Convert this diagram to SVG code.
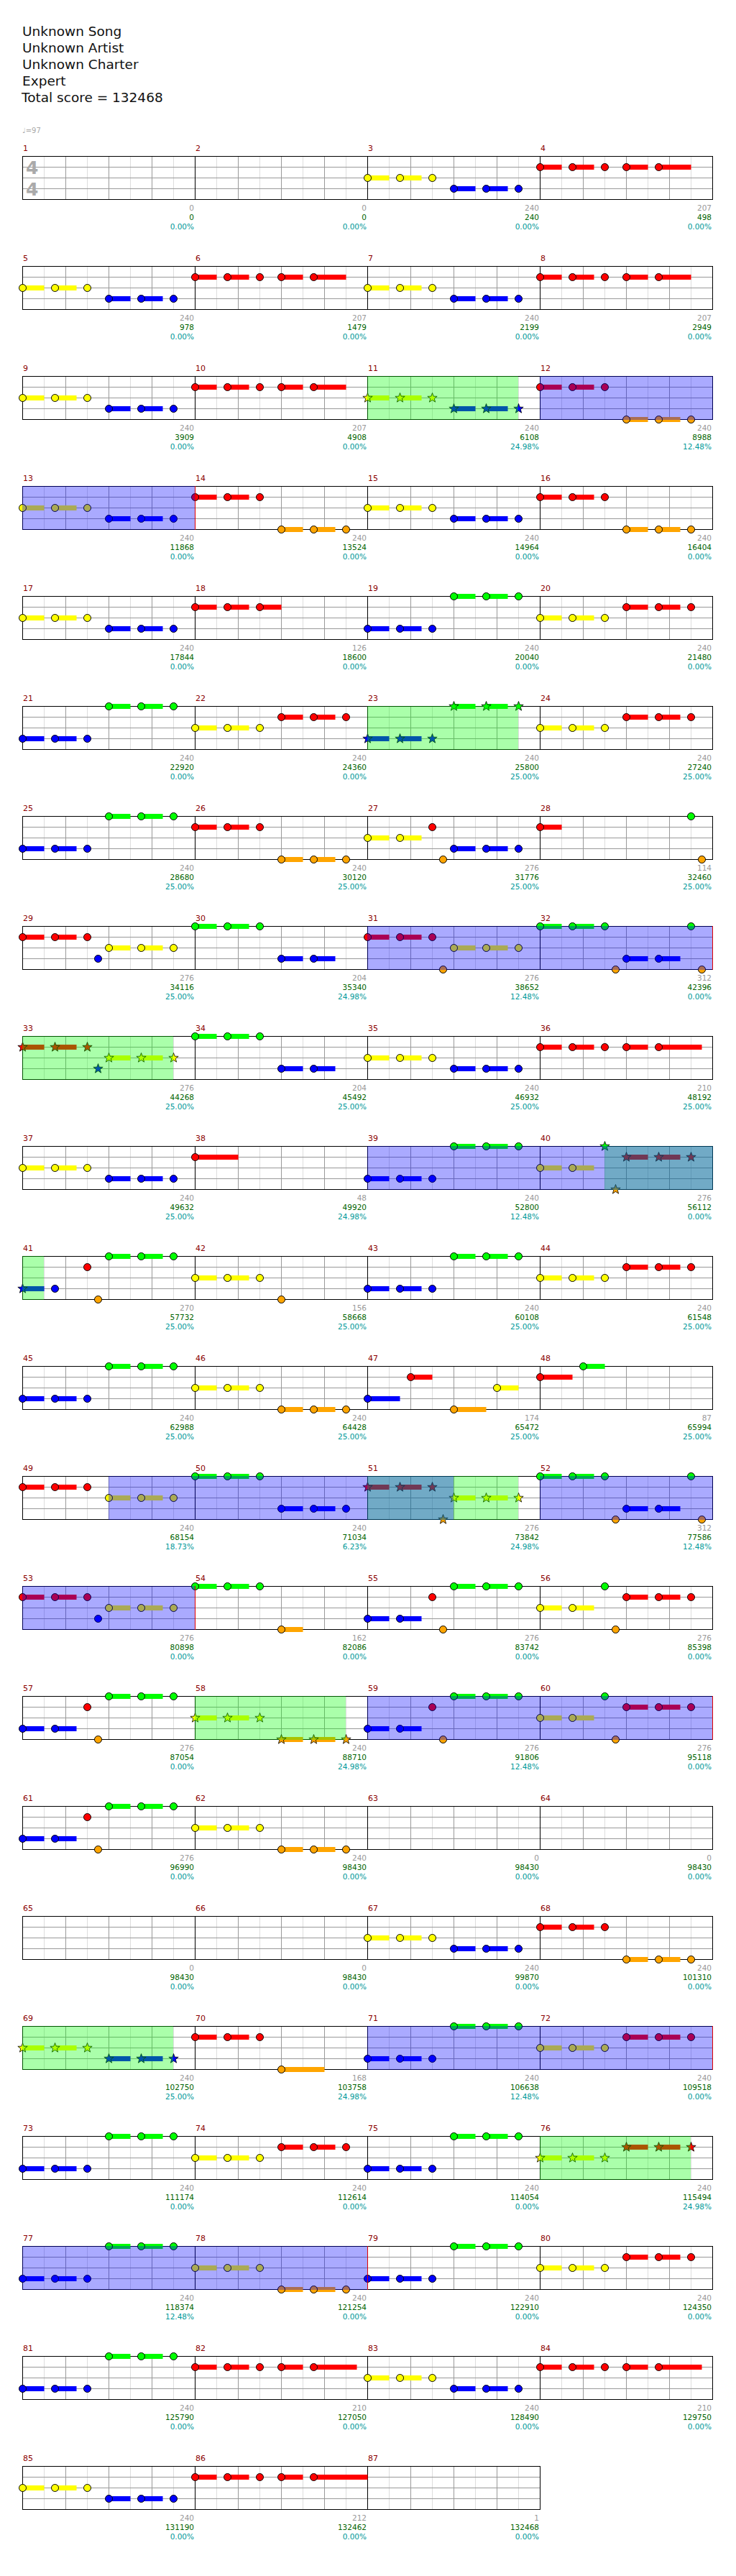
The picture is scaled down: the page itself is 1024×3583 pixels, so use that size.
<svg xmlns="http://www.w3.org/2000/svg" xmlns:xlink="http://www.w3.org/1999/xlink" width="1024" height="3583" viewBox="0 0 1024 3583">
<style>
text{font-family:"DejaVu Sans",sans-serif}
.ti{font-size:18.5px;fill:#111}
.n{font-size:11px;fill:#8b0000}
.a{font-size:10.5px;fill:#999;text-anchor:end}
.s{font-size:10.5px;fill:#006400;text-anchor:end}
.p{font-size:10.5px;fill:#009999;text-anchor:end}
.ts{font-size:25px;font-weight:bold;fill:#aaa}
.G{fill:#00ff00}.R{fill:#ff0000}.Y{fill:#ffff00}.B{fill:#0000ff}.O{fill:#ffa500}
.gz{fill:#00ff00;fill-opacity:.333}
.bz{fill:#0000ff;fill-opacity:.333}
.rl{stroke:#e00000;stroke-width:1;fill:none}
</style>
<defs>
<circle id="n" r="5" stroke="#000" stroke-width="1"/>
<path id="st" d="M0,-7L1.7,-2.35L6.66,-2.16L2.76,0.9L4.11,5.66L0,2.9L-4.11,5.66L-2.76,0.9L-6.66,-2.16L-1.7,-2.35Z" stroke="#000" stroke-width="0.8"/>
<rect id="t" y="-3.5" width="30" height="7"/>
<g id="n1"><use href="#t"/><use href="#n"/></g>
<g id="s1"><use href="#t"/><use href="#st"/></g>
<g id="n45"><rect y="-3.5" width="45" height="7"/><use href="#n"/></g>
<g id="n60"><rect y="-3.5" width="60" height="7"/><use href="#n"/></g>
<g id="c2"><use href="#t"/><use href="#t" x="45"/><use href="#n"/><use href="#n" x="45"/></g>
<g id="c3"><use href="#c2"/><use href="#n" x="90"/></g>
<g id="c3t"><use href="#c2"/><use href="#n1" x="90"/></g>
<g id="s3"><use href="#t"/><use href="#t" x="45"/><use href="#st"/><use href="#st" x="45"/><use href="#st" x="90"/></g>
<g id="r5a"><use href="#c3"/><use href="#n1" x="120"/><use href="#n45" x="165"/></g>
<g id="r5b"><use href="#c3"/><use href="#n1" x="120"/><use href="#n60" x="165"/></g>
<g id="r5c"><use href="#c3"/><use href="#n1" x="120"/><rect x="165" y="-3.5" width="75" height="7"/><use href="#n" x="165"/></g>
<g id="sg4" fill="none">
<path stroke="#dddddd" d="M30.5,0V60M90.5,0V60M150.5,0V60M210.5,0V60M270.5,0V60M330.5,0V60M390.5,0V60M450.5,0V60M510.5,0V60M570.5,0V60M630.5,0V60M690.5,0V60M750.5,0V60M810.5,0V60M870.5,0V60M930.5,0V60"/>
<path stroke="#999999" d="M60.5,0V60M120.5,0V60M180.5,0V60M300.5,0V60M360.5,0V60M420.5,0V60M540.5,0V60M600.5,0V60M660.5,0V60M780.5,0V60M840.5,0V60M900.5,0V60M0,15.5H960M0,30.5H960M0,45.5H960"/>
<path stroke="#000" d="M240.5,0V60M480.5,0V60M720.5,0V60"/>
<rect x="0.5" y="0.5" width="960" height="60" stroke="#000"/>
</g>
<g id="sg3" fill="none">
<path stroke="#dddddd" d="M30.5,0V60M90.5,0V60M150.5,0V60M210.5,0V60M270.5,0V60M330.5,0V60M390.5,0V60M450.5,0V60M510.5,0V60M570.5,0V60M630.5,0V60M690.5,0V60"/>
<path stroke="#999999" d="M60.5,0V60M120.5,0V60M180.5,0V60M300.5,0V60M360.5,0V60M420.5,0V60M540.5,0V60M600.5,0V60M660.5,0V60M0,15.5H720M0,30.5H720M0,45.5H720"/>
<path stroke="#000" d="M240.5,0V60M480.5,0V60"/>
<rect x="0.5" y="0.5" width="720" height="60" stroke="#000"/>
</g>
</defs>
<rect width="1024" height="3583" fill="#fff"/>
<g id="header">
<text class="ti" x="31" y="50">Unknown Song</text>
<text class="ti" x="31" y="73">Unknown Artist</text>
<text class="ti" x="31" y="96">Unknown Charter</text>
<text class="ti" x="31" y="119">Expert</text>
<text class="ti" x="30" y="142">Total score = 132468</text>
<text x="31" y="185" style="font-size:10px;fill:#aaa">♩=97</text>
</g>
<g id="staves">
<use href="#sg4" x="31" y="217"/><use href="#sg4" x="31" y="370"/><use href="#sg4" x="31" y="523"/><use href="#sg4" x="31" y="676"/>
<use href="#sg4" x="31" y="829"/><use href="#sg4" x="31" y="982"/><use href="#sg4" x="31" y="1135"/><use href="#sg4" x="31" y="1288"/>
<use href="#sg4" x="31" y="1441"/><use href="#sg4" x="31" y="1594"/><use href="#sg4" x="31" y="1747"/><use href="#sg4" x="31" y="1900"/>
<use href="#sg4" x="31" y="2053"/><use href="#sg4" x="31" y="2206"/><use href="#sg4" x="31" y="2359"/><use href="#sg4" x="31" y="2512"/>
<use href="#sg4" x="31" y="2665"/><use href="#sg4" x="31" y="2818"/><use href="#sg4" x="31" y="2971"/><use href="#sg4" x="31" y="3124"/>
<use href="#sg4" x="31" y="3277"/><use href="#sg3" x="31" y="3430"/>
<text class="ts" x="36" y="241.5">4</text>
<text class="ts" x="36" y="271.5">4</text>
</g>
<g id="notes">
<g id="m3"><use href="#c3" class="Y" x="511.5" y="247.5"/><use href="#c3" class="B" x="631.5" y="262.5"/></g>
<g id="m4"><use href="#r5a" class="R" x="751.5" y="232.5"/></g>
<g id="m5"><use href="#c3" class="Y" x="31.5" y="400.5"/><use href="#c3" class="B" x="151.5" y="415.5"/></g>
<g id="m6"><use href="#r5a" class="R" x="271.5" y="385.5"/></g>
<g id="m7"><use href="#c3" class="Y" x="511.5" y="400.5"/><use href="#c3" class="B" x="631.5" y="415.5"/></g>
<g id="m8"><use href="#r5a" class="R" x="751.5" y="385.5"/></g>
<g id="m9"><use href="#c3" class="Y" x="31.5" y="553.5"/><use href="#c3" class="B" x="151.5" y="568.5"/></g>
<g id="m10"><use href="#r5a" class="R" x="271.5" y="538.5"/></g>
<g id="m11"><use href="#s3" class="Y" x="511.5" y="553.5"/><use href="#s3" class="B" x="631.5" y="568.5"/></g>
<g id="m12"><use href="#c3" class="R" x="751.5" y="538.5"/><use href="#c3" class="O" x="871.5" y="583.5"/></g>
<g id="m13"><use href="#c3" class="Y" x="31.5" y="706.5"/><use href="#c3" class="B" x="151.5" y="721.5"/></g>
<g id="m14"><use href="#c3" class="R" x="271.5" y="691.5"/><use href="#c3" class="O" x="391.5" y="736.5"/></g>
<g id="m15"><use href="#c3" class="Y" x="511.5" y="706.5"/><use href="#c3" class="B" x="631.5" y="721.5"/></g>
<g id="m16"><use href="#c3" class="R" x="751.5" y="691.5"/><use href="#c3" class="O" x="871.5" y="736.5"/></g>
<g id="m17"><use href="#c3" class="Y" x="31.5" y="859.5"/><use href="#c3" class="B" x="151.5" y="874.5"/></g>
<g id="m18"><use href="#c3t" class="R" x="271.5" y="844.5"/></g>
<g id="m19"><use href="#c3" class="B" x="511.5" y="874.5"/><use href="#c3" class="G" x="631.5" y="829.5"/></g>
<g id="m20"><use href="#c3" class="Y" x="751.5" y="859.5"/><use href="#c3" class="R" x="871.5" y="844.5"/></g>
<g id="m21"><use href="#c3" class="B" x="31.5" y="1027.5"/><use href="#c3" class="G" x="151.5" y="982.5"/></g>
<g id="m22"><use href="#c3" class="Y" x="271.5" y="1012.5"/><use href="#c3" class="R" x="391.5" y="997.5"/></g>
<g id="m23"><use href="#s3" class="B" x="511.5" y="1027.5"/><use href="#s3" class="G" x="631.5" y="982.5"/></g>
<g id="m24"><use href="#c3" class="Y" x="751.5" y="1012.5"/><use href="#c3" class="R" x="871.5" y="997.5"/></g>
<g id="m25"><use href="#c3" class="B" x="31.5" y="1180.5"/><use href="#c3" class="G" x="151.5" y="1135.5"/></g>
<g id="m26"><use href="#c3" class="R" x="271.5" y="1150.5"/><use href="#c3" class="O" x="391.5" y="1195.5"/></g>
<g id="m27"><use href="#c2" class="Y" x="511.5" y="1165.5"/><use href="#n" class="R" x="601.5" y="1150.5"/><use href="#n" class="O" x="616.5" y="1195.5"/><use href="#c3" class="B" x="631.5" y="1180.5"/></g>
<g id="m28"><use href="#n1" class="R" x="751.5" y="1150.5"/><use href="#n" class="G" x="961.5" y="1135.5"/><use href="#n" class="O" x="976.5" y="1195.5"/></g>
<g id="m29"><use href="#c3" class="R" x="31.5" y="1303.5"/><use href="#n" class="B" x="136.5" y="1333.5"/><use href="#c3" class="Y" x="151.5" y="1318.5"/></g>
<g id="m30"><use href="#c3" class="G" x="271.5" y="1288.5"/><use href="#c2" class="B" x="391.5" y="1333.5"/></g>
<g id="m31"><use href="#c3" class="R" x="511.5" y="1303.5"/><use href="#n" class="O" x="616.5" y="1348.5"/><use href="#c3" class="Y" x="631.5" y="1318.5"/></g>
<g id="m32"><use href="#c3" class="G" x="751.5" y="1288.5"/><use href="#n" class="O" x="856.5" y="1348.5"/><use href="#c2" class="B" x="871.5" y="1333.5"/><use href="#n" class="G" x="961.5" y="1288.5"/><use href="#n" class="O" x="976.5" y="1348.5"/></g>
<g id="m33"><use href="#s3" class="R" x="31.5" y="1456.5"/><use href="#st" class="B" x="136.5" y="1486.5"/><use href="#s3" class="Y" x="151.5" y="1471.5"/></g>
<g id="m34"><use href="#c3" class="G" x="271.5" y="1441.5"/><use href="#c2" class="B" x="391.5" y="1486.5"/></g>
<g id="m35"><use href="#c3" class="Y" x="511.5" y="1471.5"/><use href="#c3" class="B" x="631.5" y="1486.5"/></g>
<g id="m36"><use href="#r5b" class="R" x="751.5" y="1456.5"/></g>
<g id="m37"><use href="#c3" class="Y" x="31.5" y="1624.5"/><use href="#c3" class="B" x="151.5" y="1639.5"/></g>
<g id="m38"><use href="#n60" class="R" x="271.5" y="1609.5"/></g>
<g id="m39"><use href="#c3" class="B" x="511.5" y="1639.5"/><use href="#c3" class="G" x="631.5" y="1594.5"/></g>
<g id="m40"><use href="#c2" class="Y" x="751.5" y="1624.5"/><use href="#st" class="G" x="841.5" y="1594.5"/><use href="#st" class="O" x="856.5" y="1654.5"/><use href="#s3" class="R" x="871.5" y="1609.5"/></g>
<g id="m41"><use href="#s1" class="B" x="31.5" y="1792.5"/><use href="#n" class="B" x="76.5" y="1792.5"/><use href="#n" class="R" x="121.5" y="1762.5"/><use href="#n" class="O" x="136.5" y="1807.5"/><use href="#c3" class="G" x="151.5" y="1747.5"/></g>
<g id="m42"><use href="#c3" class="Y" x="271.5" y="1777.5"/><use href="#n" class="O" x="391.5" y="1807.5"/></g>
<g id="m43"><use href="#c3" class="B" x="511.5" y="1792.5"/><use href="#c3" class="G" x="631.5" y="1747.5"/></g>
<g id="m44"><use href="#c3" class="Y" x="751.5" y="1777.5"/><use href="#c3" class="R" x="871.5" y="1762.5"/></g>
<g id="m45"><use href="#c3" class="B" x="31.5" y="1945.5"/><use href="#c3" class="G" x="151.5" y="1900.5"/></g>
<g id="m46"><use href="#c3" class="Y" x="271.5" y="1930.5"/><use href="#c3" class="O" x="391.5" y="1960.5"/></g>
<g id="m47"><use href="#n45" class="B" x="511.5" y="1945.5"/><use href="#n1" class="R" x="571.5" y="1915.5"/><use href="#n45" class="O" x="631.5" y="1960.5"/><use href="#n1" class="Y" x="691.5" y="1930.5"/></g>
<g id="m48"><use href="#n45" class="R" x="751.5" y="1915.5"/><use href="#n1" class="G" x="811.5" y="1900.5"/></g>
<g id="m49"><use href="#c3" class="R" x="31.5" y="2068.5"/><use href="#c3" class="Y" x="151.5" y="2083.5"/></g>
<g id="m50"><use href="#c3" class="G" x="271.5" y="2053.5"/><use href="#c3" class="B" x="391.5" y="2098.5"/></g>
<g id="m51"><use href="#s3" class="R" x="511.5" y="2068.5"/><use href="#st" class="O" x="616.5" y="2113.5"/><use href="#s3" class="Y" x="631.5" y="2083.5"/></g>
<g id="m52"><use href="#c3" class="G" x="751.5" y="2053.5"/><use href="#n" class="O" x="856.5" y="2113.5"/><use href="#c2" class="B" x="871.5" y="2098.5"/><use href="#n" class="G" x="961.5" y="2053.5"/><use href="#n" class="O" x="976.5" y="2113.5"/></g>
<g id="m53"><use href="#c3" class="R" x="31.5" y="2221.5"/><use href="#n" class="B" x="136.5" y="2251.5"/><use href="#c3" class="Y" x="151.5" y="2236.5"/></g>
<g id="m54"><use href="#c3" class="G" x="271.5" y="2206.5"/><use href="#n1" class="O" x="391.5" y="2266.5"/></g>
<g id="m55"><use href="#c2" class="B" x="511.5" y="2251.5"/><use href="#n" class="R" x="601.5" y="2221.5"/><use href="#n" class="O" x="616.5" y="2266.5"/><use href="#c3" class="G" x="631.5" y="2206.5"/></g>
<g id="m56"><use href="#c2" class="Y" x="751.5" y="2236.5"/><use href="#n" class="G" x="841.5" y="2206.5"/><use href="#n" class="O" x="856.5" y="2266.5"/><use href="#c3" class="R" x="871.5" y="2221.5"/></g>
<g id="m57"><use href="#c2" class="B" x="31.5" y="2404.5"/><use href="#n" class="R" x="121.5" y="2374.5"/><use href="#n" class="O" x="136.5" y="2419.5"/><use href="#c3" class="G" x="151.5" y="2359.5"/></g>
<g id="m58"><use href="#s3" class="Y" x="271.5" y="2389.5"/><use href="#s3" class="O" x="391.5" y="2419.5"/></g>
<g id="m59"><use href="#c2" class="B" x="511.5" y="2404.5"/><use href="#n" class="R" x="601.5" y="2374.5"/><use href="#n" class="O" x="616.5" y="2419.5"/><use href="#c3" class="G" x="631.5" y="2359.5"/></g>
<g id="m60"><use href="#c2" class="Y" x="751.5" y="2389.5"/><use href="#n" class="G" x="841.5" y="2359.5"/><use href="#n" class="O" x="856.5" y="2419.5"/><use href="#c3" class="R" x="871.5" y="2374.5"/></g>
<g id="m61"><use href="#c2" class="B" x="31.5" y="2557.5"/><use href="#n" class="R" x="121.5" y="2527.5"/><use href="#n" class="O" x="136.5" y="2572.5"/><use href="#c3" class="G" x="151.5" y="2512.5"/></g>
<g id="m62"><use href="#c3" class="Y" x="271.5" y="2542.5"/><use href="#c3" class="O" x="391.5" y="2572.5"/></g>
<g id="m67"><use href="#c3" class="Y" x="511.5" y="2695.5"/><use href="#c3" class="B" x="631.5" y="2710.5"/></g>
<g id="m68"><use href="#c3" class="R" x="751.5" y="2680.5"/><use href="#c3" class="O" x="871.5" y="2725.5"/></g>
<g id="m69"><use href="#s3" class="Y" x="31.5" y="2848.5"/><use href="#s3" class="B" x="151.5" y="2863.5"/></g>
<g id="m70"><use href="#c3" class="R" x="271.5" y="2833.5"/><use href="#n60" class="O" x="391.5" y="2878.5"/></g>
<g id="m71"><use href="#c3" class="B" x="511.5" y="2863.5"/><use href="#c3" class="G" x="631.5" y="2818.5"/></g>
<g id="m72"><use href="#c3" class="Y" x="751.5" y="2848.5"/><use href="#c3" class="R" x="871.5" y="2833.5"/></g>
<g id="m73"><use href="#c3" class="B" x="31.5" y="3016.5"/><use href="#c3" class="G" x="151.5" y="2971.5"/></g>
<g id="m74"><use href="#c3" class="Y" x="271.5" y="3001.5"/><use href="#c3" class="R" x="391.5" y="2986.5"/></g>
<g id="m75"><use href="#c3" class="B" x="511.5" y="3016.5"/><use href="#c3" class="G" x="631.5" y="2971.5"/></g>
<g id="m76"><use href="#s3" class="Y" x="751.5" y="3001.5"/><use href="#s3" class="R" x="871.5" y="2986.5"/></g>
<g id="m77"><use href="#c3" class="B" x="31.5" y="3169.5"/><use href="#c3" class="G" x="151.5" y="3124.5"/></g>
<g id="m78"><use href="#c3" class="Y" x="271.5" y="3154.5"/><use href="#c3" class="O" x="391.5" y="3184.5"/></g>
<g id="m79"><use href="#c3" class="B" x="511.5" y="3169.5"/><use href="#c3" class="G" x="631.5" y="3124.5"/></g>
<g id="m80"><use href="#c3" class="Y" x="751.5" y="3154.5"/><use href="#c3" class="R" x="871.5" y="3139.5"/></g>
<g id="m81"><use href="#c3" class="B" x="31.5" y="3322.5"/><use href="#c3" class="G" x="151.5" y="3277.5"/></g>
<g id="m82"><use href="#r5b" class="R" x="271.5" y="3292.5"/></g>
<g id="m83"><use href="#c3" class="Y" x="511.5" y="3307.5"/><use href="#c3" class="B" x="631.5" y="3322.5"/></g>
<g id="m84"><use href="#r5b" class="R" x="751.5" y="3292.5"/></g>
<g id="m85"><use href="#c3" class="Y" x="31.5" y="3460.5"/><use href="#c3" class="B" x="151.5" y="3475.5"/></g>
<g id="m86"><use href="#r5c" class="R" x="271.5" y="3445.5"/></g>
</g>
<g id="phrases">
<rect class="gz" x="511" y="523" width="210" height="61"/>
<rect class="gz" x="511" y="982" width="210" height="61"/>
<rect class="gz" x="31" y="1441" width="210" height="61"/>
<rect class="gz" x="841" y="1594" width="151" height="61"/>
<rect class="gz" x="31" y="1747" width="30" height="61"/>
<rect class="gz" x="511" y="2053" width="210" height="61"/>
<rect class="gz" x="271" y="2359" width="210" height="61"/>
<rect class="gz" x="31" y="2818" width="210" height="61"/>
<rect class="gz" x="751" y="2971" width="210" height="61"/>
<rect class="bz" x="751" y="523" width="241" height="61"/>
<rect class="bz" x="31" y="676" width="240" height="61"/>
<rect class="bz" x="511" y="1288" width="480" height="61"/>
<rect class="bz" x="511" y="1594" width="481" height="61"/>
<rect class="bz" x="151" y="2053" width="480" height="61"/>
<rect class="bz" x="751" y="2053" width="241" height="61"/>
<rect class="bz" x="31" y="2206" width="240" height="61"/>
<rect class="bz" x="511" y="2359" width="480" height="61"/>
<rect class="bz" x="511" y="2818" width="480" height="61"/>
<rect class="bz" x="31" y="3124" width="480" height="61"/>
<path class="rl" d="M271.5,676V737M991.5,1288V1349M271.5,2206V2267M991.5,2359V2420M991.5,2818V2879M511.5,3124V3185"/>
</g>
<g id="labels">
<text class="n" x="32" y="210">1</text><text class="a" x="270" y="293">0</text><text class="s" x="270" y="306">0</text><text class="p" x="270" y="319">0.00%</text>
<text class="n" x="272" y="210">2</text><text class="a" x="510" y="293">0</text><text class="s" x="510" y="306">0</text><text class="p" x="510" y="319">0.00%</text>
<text class="n" x="512" y="210">3</text><text class="a" x="750" y="293">240</text><text class="s" x="750" y="306">240</text><text class="p" x="750" y="319">0.00%</text>
<text class="n" x="752" y="210">4</text><text class="a" x="990" y="293">207</text><text class="s" x="990" y="306">498</text><text class="p" x="990" y="319">0.00%</text>
<text class="n" x="32" y="363">5</text><text class="a" x="270" y="446">240</text><text class="s" x="270" y="459">978</text><text class="p" x="270" y="472">0.00%</text>
<text class="n" x="272" y="363">6</text><text class="a" x="510" y="446">207</text><text class="s" x="510" y="459">1479</text><text class="p" x="510" y="472">0.00%</text>
<text class="n" x="512" y="363">7</text><text class="a" x="750" y="446">240</text><text class="s" x="750" y="459">2199</text><text class="p" x="750" y="472">0.00%</text>
<text class="n" x="752" y="363">8</text><text class="a" x="990" y="446">207</text><text class="s" x="990" y="459">2949</text><text class="p" x="990" y="472">0.00%</text>
<text class="n" x="32" y="516">9</text><text class="a" x="270" y="599">240</text><text class="s" x="270" y="612">3909</text><text class="p" x="270" y="625">0.00%</text>
<text class="n" x="272" y="516">10</text><text class="a" x="510" y="599">207</text><text class="s" x="510" y="612">4908</text><text class="p" x="510" y="625">0.00%</text>
<text class="n" x="512" y="516">11</text><text class="a" x="750" y="599">240</text><text class="s" x="750" y="612">6108</text><text class="p" x="750" y="625">24.98%</text>
<text class="n" x="752" y="516">12</text><text class="a" x="990" y="599">240</text><text class="s" x="990" y="612">8988</text><text class="p" x="990" y="625">12.48%</text>
<text class="n" x="32" y="669">13</text><text class="a" x="270" y="752">240</text><text class="s" x="270" y="765">11868</text><text class="p" x="270" y="778">0.00%</text>
<text class="n" x="272" y="669">14</text><text class="a" x="510" y="752">240</text><text class="s" x="510" y="765">13524</text><text class="p" x="510" y="778">0.00%</text>
<text class="n" x="512" y="669">15</text><text class="a" x="750" y="752">240</text><text class="s" x="750" y="765">14964</text><text class="p" x="750" y="778">0.00%</text>
<text class="n" x="752" y="669">16</text><text class="a" x="990" y="752">240</text><text class="s" x="990" y="765">16404</text><text class="p" x="990" y="778">0.00%</text>
<text class="n" x="32" y="822">17</text><text class="a" x="270" y="905">240</text><text class="s" x="270" y="918">17844</text><text class="p" x="270" y="931">0.00%</text>
<text class="n" x="272" y="822">18</text><text class="a" x="510" y="905">126</text><text class="s" x="510" y="918">18600</text><text class="p" x="510" y="931">0.00%</text>
<text class="n" x="512" y="822">19</text><text class="a" x="750" y="905">240</text><text class="s" x="750" y="918">20040</text><text class="p" x="750" y="931">0.00%</text>
<text class="n" x="752" y="822">20</text><text class="a" x="990" y="905">240</text><text class="s" x="990" y="918">21480</text><text class="p" x="990" y="931">0.00%</text>
<text class="n" x="32" y="975">21</text><text class="a" x="270" y="1058">240</text><text class="s" x="270" y="1071">22920</text><text class="p" x="270" y="1084">0.00%</text>
<text class="n" x="272" y="975">22</text><text class="a" x="510" y="1058">240</text><text class="s" x="510" y="1071">24360</text><text class="p" x="510" y="1084">0.00%</text>
<text class="n" x="512" y="975">23</text><text class="a" x="750" y="1058">240</text><text class="s" x="750" y="1071">25800</text><text class="p" x="750" y="1084">25.00%</text>
<text class="n" x="752" y="975">24</text><text class="a" x="990" y="1058">240</text><text class="s" x="990" y="1071">27240</text><text class="p" x="990" y="1084">25.00%</text>
<text class="n" x="32" y="1128">25</text><text class="a" x="270" y="1211">240</text><text class="s" x="270" y="1224">28680</text><text class="p" x="270" y="1237">25.00%</text>
<text class="n" x="272" y="1128">26</text><text class="a" x="510" y="1211">240</text><text class="s" x="510" y="1224">30120</text><text class="p" x="510" y="1237">25.00%</text>
<text class="n" x="512" y="1128">27</text><text class="a" x="750" y="1211">276</text><text class="s" x="750" y="1224">31776</text><text class="p" x="750" y="1237">25.00%</text>
<text class="n" x="752" y="1128">28</text><text class="a" x="990" y="1211">114</text><text class="s" x="990" y="1224">32460</text><text class="p" x="990" y="1237">25.00%</text>
<text class="n" x="32" y="1281">29</text><text class="a" x="270" y="1364">276</text><text class="s" x="270" y="1377">34116</text><text class="p" x="270" y="1390">25.00%</text>
<text class="n" x="272" y="1281">30</text><text class="a" x="510" y="1364">204</text><text class="s" x="510" y="1377">35340</text><text class="p" x="510" y="1390">24.98%</text>
<text class="n" x="512" y="1281">31</text><text class="a" x="750" y="1364">276</text><text class="s" x="750" y="1377">38652</text><text class="p" x="750" y="1390">12.48%</text>
<text class="n" x="752" y="1281">32</text><text class="a" x="990" y="1364">312</text><text class="s" x="990" y="1377">42396</text><text class="p" x="990" y="1390">0.00%</text>
<text class="n" x="32" y="1434">33</text><text class="a" x="270" y="1517">276</text><text class="s" x="270" y="1530">44268</text><text class="p" x="270" y="1543">25.00%</text>
<text class="n" x="272" y="1434">34</text><text class="a" x="510" y="1517">204</text><text class="s" x="510" y="1530">45492</text><text class="p" x="510" y="1543">25.00%</text>
<text class="n" x="512" y="1434">35</text><text class="a" x="750" y="1517">240</text><text class="s" x="750" y="1530">46932</text><text class="p" x="750" y="1543">25.00%</text>
<text class="n" x="752" y="1434">36</text><text class="a" x="990" y="1517">210</text><text class="s" x="990" y="1530">48192</text><text class="p" x="990" y="1543">25.00%</text>
<text class="n" x="32" y="1587">37</text><text class="a" x="270" y="1670">240</text><text class="s" x="270" y="1683">49632</text><text class="p" x="270" y="1696">25.00%</text>
<text class="n" x="272" y="1587">38</text><text class="a" x="510" y="1670">48</text><text class="s" x="510" y="1683">49920</text><text class="p" x="510" y="1696">24.98%</text>
<text class="n" x="512" y="1587">39</text><text class="a" x="750" y="1670">240</text><text class="s" x="750" y="1683">52800</text><text class="p" x="750" y="1696">12.48%</text>
<text class="n" x="752" y="1587">40</text><text class="a" x="990" y="1670">276</text><text class="s" x="990" y="1683">56112</text><text class="p" x="990" y="1696">0.00%</text>
<text class="n" x="32" y="1740">41</text><text class="a" x="270" y="1823">270</text><text class="s" x="270" y="1836">57732</text><text class="p" x="270" y="1849">25.00%</text>
<text class="n" x="272" y="1740">42</text><text class="a" x="510" y="1823">156</text><text class="s" x="510" y="1836">58668</text><text class="p" x="510" y="1849">25.00%</text>
<text class="n" x="512" y="1740">43</text><text class="a" x="750" y="1823">240</text><text class="s" x="750" y="1836">60108</text><text class="p" x="750" y="1849">25.00%</text>
<text class="n" x="752" y="1740">44</text><text class="a" x="990" y="1823">240</text><text class="s" x="990" y="1836">61548</text><text class="p" x="990" y="1849">25.00%</text>
<text class="n" x="32" y="1893">45</text><text class="a" x="270" y="1976">240</text><text class="s" x="270" y="1989">62988</text><text class="p" x="270" y="2002">25.00%</text>
<text class="n" x="272" y="1893">46</text><text class="a" x="510" y="1976">240</text><text class="s" x="510" y="1989">64428</text><text class="p" x="510" y="2002">25.00%</text>
<text class="n" x="512" y="1893">47</text><text class="a" x="750" y="1976">174</text><text class="s" x="750" y="1989">65472</text><text class="p" x="750" y="2002">25.00%</text>
<text class="n" x="752" y="1893">48</text><text class="a" x="990" y="1976">87</text><text class="s" x="990" y="1989">65994</text><text class="p" x="990" y="2002">25.00%</text>
<text class="n" x="32" y="2046">49</text><text class="a" x="270" y="2129">240</text><text class="s" x="270" y="2142">68154</text><text class="p" x="270" y="2155">18.73%</text>
<text class="n" x="272" y="2046">50</text><text class="a" x="510" y="2129">240</text><text class="s" x="510" y="2142">71034</text><text class="p" x="510" y="2155">6.23%</text>
<text class="n" x="512" y="2046">51</text><text class="a" x="750" y="2129">276</text><text class="s" x="750" y="2142">73842</text><text class="p" x="750" y="2155">24.98%</text>
<text class="n" x="752" y="2046">52</text><text class="a" x="990" y="2129">312</text><text class="s" x="990" y="2142">77586</text><text class="p" x="990" y="2155">12.48%</text>
<text class="n" x="32" y="2199">53</text><text class="a" x="270" y="2282">276</text><text class="s" x="270" y="2295">80898</text><text class="p" x="270" y="2308">0.00%</text>
<text class="n" x="272" y="2199">54</text><text class="a" x="510" y="2282">162</text><text class="s" x="510" y="2295">82086</text><text class="p" x="510" y="2308">0.00%</text>
<text class="n" x="512" y="2199">55</text><text class="a" x="750" y="2282">276</text><text class="s" x="750" y="2295">83742</text><text class="p" x="750" y="2308">0.00%</text>
<text class="n" x="752" y="2199">56</text><text class="a" x="990" y="2282">276</text><text class="s" x="990" y="2295">85398</text><text class="p" x="990" y="2308">0.00%</text>
<text class="n" x="32" y="2352">57</text><text class="a" x="270" y="2435">276</text><text class="s" x="270" y="2448">87054</text><text class="p" x="270" y="2461">0.00%</text>
<text class="n" x="272" y="2352">58</text><text class="a" x="510" y="2435">240</text><text class="s" x="510" y="2448">88710</text><text class="p" x="510" y="2461">24.98%</text>
<text class="n" x="512" y="2352">59</text><text class="a" x="750" y="2435">276</text><text class="s" x="750" y="2448">91806</text><text class="p" x="750" y="2461">12.48%</text>
<text class="n" x="752" y="2352">60</text><text class="a" x="990" y="2435">276</text><text class="s" x="990" y="2448">95118</text><text class="p" x="990" y="2461">0.00%</text>
<text class="n" x="32" y="2505">61</text><text class="a" x="270" y="2588">276</text><text class="s" x="270" y="2601">96990</text><text class="p" x="270" y="2614">0.00%</text>
<text class="n" x="272" y="2505">62</text><text class="a" x="510" y="2588">240</text><text class="s" x="510" y="2601">98430</text><text class="p" x="510" y="2614">0.00%</text>
<text class="n" x="512" y="2505">63</text><text class="a" x="750" y="2588">0</text><text class="s" x="750" y="2601">98430</text><text class="p" x="750" y="2614">0.00%</text>
<text class="n" x="752" y="2505">64</text><text class="a" x="990" y="2588">0</text><text class="s" x="990" y="2601">98430</text><text class="p" x="990" y="2614">0.00%</text>
<text class="n" x="32" y="2658">65</text><text class="a" x="270" y="2741">0</text><text class="s" x="270" y="2754">98430</text><text class="p" x="270" y="2767">0.00%</text>
<text class="n" x="272" y="2658">66</text><text class="a" x="510" y="2741">0</text><text class="s" x="510" y="2754">98430</text><text class="p" x="510" y="2767">0.00%</text>
<text class="n" x="512" y="2658">67</text><text class="a" x="750" y="2741">240</text><text class="s" x="750" y="2754">99870</text><text class="p" x="750" y="2767">0.00%</text>
<text class="n" x="752" y="2658">68</text><text class="a" x="990" y="2741">240</text><text class="s" x="990" y="2754">101310</text><text class="p" x="990" y="2767">0.00%</text>
<text class="n" x="32" y="2811">69</text><text class="a" x="270" y="2894">240</text><text class="s" x="270" y="2907">102750</text><text class="p" x="270" y="2920">25.00%</text>
<text class="n" x="272" y="2811">70</text><text class="a" x="510" y="2894">168</text><text class="s" x="510" y="2907">103758</text><text class="p" x="510" y="2920">24.98%</text>
<text class="n" x="512" y="2811">71</text><text class="a" x="750" y="2894">240</text><text class="s" x="750" y="2907">106638</text><text class="p" x="750" y="2920">12.48%</text>
<text class="n" x="752" y="2811">72</text><text class="a" x="990" y="2894">240</text><text class="s" x="990" y="2907">109518</text><text class="p" x="990" y="2920">0.00%</text>
<text class="n" x="32" y="2964">73</text><text class="a" x="270" y="3047">240</text><text class="s" x="270" y="3060">111174</text><text class="p" x="270" y="3073">0.00%</text>
<text class="n" x="272" y="2964">74</text><text class="a" x="510" y="3047">240</text><text class="s" x="510" y="3060">112614</text><text class="p" x="510" y="3073">0.00%</text>
<text class="n" x="512" y="2964">75</text><text class="a" x="750" y="3047">240</text><text class="s" x="750" y="3060">114054</text><text class="p" x="750" y="3073">0.00%</text>
<text class="n" x="752" y="2964">76</text><text class="a" x="990" y="3047">240</text><text class="s" x="990" y="3060">115494</text><text class="p" x="990" y="3073">24.98%</text>
<text class="n" x="32" y="3117">77</text><text class="a" x="270" y="3200">240</text><text class="s" x="270" y="3213">118374</text><text class="p" x="270" y="3226">12.48%</text>
<text class="n" x="272" y="3117">78</text><text class="a" x="510" y="3200">240</text><text class="s" x="510" y="3213">121254</text><text class="p" x="510" y="3226">0.00%</text>
<text class="n" x="512" y="3117">79</text><text class="a" x="750" y="3200">240</text><text class="s" x="750" y="3213">122910</text><text class="p" x="750" y="3226">0.00%</text>
<text class="n" x="752" y="3117">80</text><text class="a" x="990" y="3200">240</text><text class="s" x="990" y="3213">124350</text><text class="p" x="990" y="3226">0.00%</text>
<text class="n" x="32" y="3270">81</text><text class="a" x="270" y="3353">240</text><text class="s" x="270" y="3366">125790</text><text class="p" x="270" y="3379">0.00%</text>
<text class="n" x="272" y="3270">82</text><text class="a" x="510" y="3353">210</text><text class="s" x="510" y="3366">127050</text><text class="p" x="510" y="3379">0.00%</text>
<text class="n" x="512" y="3270">83</text><text class="a" x="750" y="3353">240</text><text class="s" x="750" y="3366">128490</text><text class="p" x="750" y="3379">0.00%</text>
<text class="n" x="752" y="3270">84</text><text class="a" x="990" y="3353">210</text><text class="s" x="990" y="3366">129750</text><text class="p" x="990" y="3379">0.00%</text>
<text class="n" x="32" y="3423">85</text><text class="a" x="270" y="3506">240</text><text class="s" x="270" y="3519">131190</text><text class="p" x="270" y="3532">0.00%</text>
<text class="n" x="272" y="3423">86</text><text class="a" x="510" y="3506">212</text><text class="s" x="510" y="3519">132462</text><text class="p" x="510" y="3532">0.00%</text>
<text class="n" x="512" y="3423">87</text><text class="a" x="750" y="3506">1</text><text class="s" x="750" y="3519">132468</text><text class="p" x="750" y="3532">0.00%</text>
</g>
</svg>
